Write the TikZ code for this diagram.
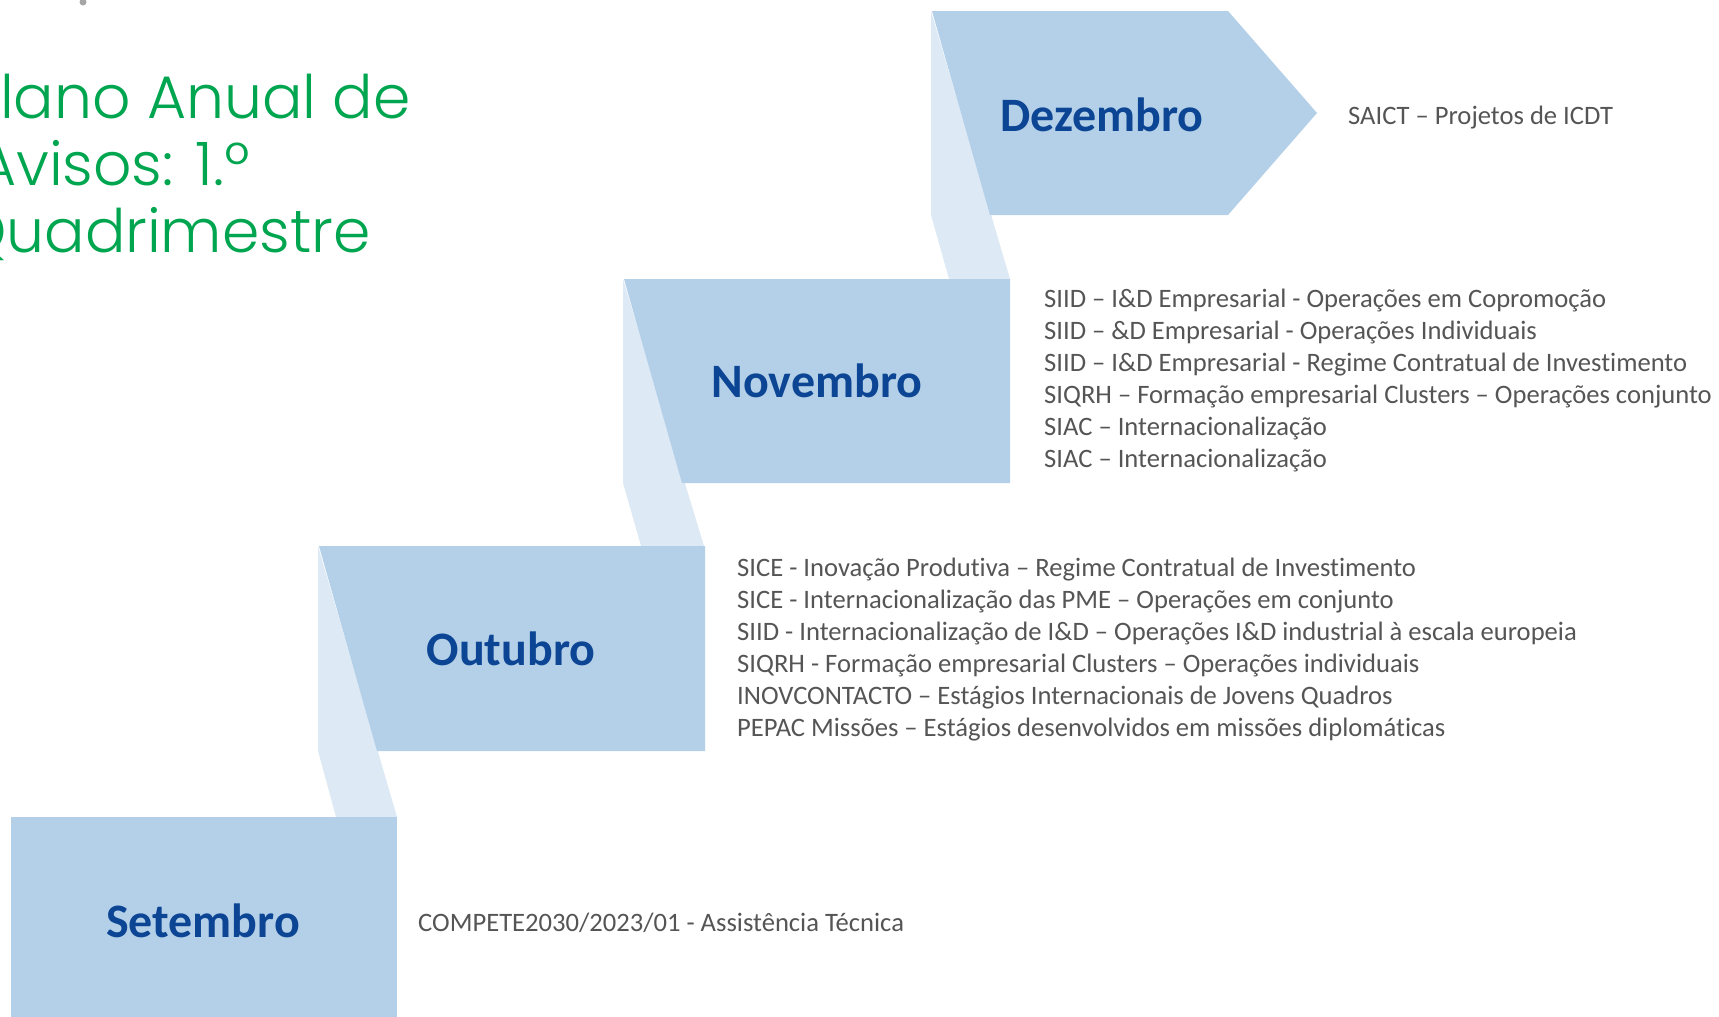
\documentclass[tikz,border=0pt]{standalone}
\usepackage{fontspec}
\setmainfont{Carlito}[Ligatures=NoCommon]
\newfontfamily\titlefont{Poppins Light}
\definecolor{boxblue}{HTML}{B3D0E8}
\definecolor{flapblue}{HTML}{DDE9F5}
\definecolor{monthblue}{HTML}{0C4594}
\definecolor{itemgray}{HTML}{555555}
\definecolor{titlegreen}{HTML}{00A54F}

\begin{document}
\begin{tikzpicture}[x=1pt,y=1pt]
          \tikzstyle{every node}+=[inner sep=0pt]
          \tikzstyle{month}=[font=\fontsize{48}{56}\selectfont\bfseries, text=monthblue]
          \tikzstyle{items}=[anchor=west, align=left, font=\fontsize{26.6}{32}\selectfont, text=itemgray]
          \tikzstyle{title}=[anchor=base west, font=\titlefont\fontsize{60}{67}\selectfont, text=titlegreen]
          \useasboundingbox (0,0) rectangle (1719,-1017);
          \clip (0,0) rectangle (1719,-1017);
          % title
          \draw (-34,-118) node[title] (title1) {Plano Anual de};
          \draw (-23,-185) node[title] (title2) {Avisos: 1.º};
          \draw (-41,-252) node[title] (title3) {Quadrimestre};
          \fill [black!35] (83,-2) circle (3.5);
          % flaps
          \fill [flapblue] (931,-11) -- (931,-215) -- (949,-279) -- (1010,-279) -- cycle;
          \fill [flapblue] (623,-279) -- (623,-483) -- (641,-546) -- (704,-546) -- cycle;
          \fill [flapblue] (318,-546) -- (318,-751) -- (336,-817) -- (397,-817) -- cycle;
          % steps
          \fill [boxblue] (932,-11) -- (1228,-11) -- (1317,-113) -- (1228,-215) -- (990,-215) -- cycle;
          \fill [boxblue] (624,-279) -- (1010,-279) -- (1010,-483) -- (682,-483) -- cycle;
          \fill [boxblue] (319,-546) -- (705,-546) -- (705,-751) -- (377,-751) -- cycle;
          \fill [boxblue] (11,-817) rectangle (397,-1021);
          % months
          \draw (1102,-115) node[month] (dez) {Dezembro};
          \draw (817,-381) node[month] (nov) {Novembro};
          \draw (511,-649) node[month] (out) {Outubro};
          \draw (203,-921) node[month] (set) {Setembro};
          % avisos
          \draw (1348,-118) node[items] (dezlist) {SAICT – Projetos de ICDT};
          \draw (1044,-380) node[items] (novlist) {SIID – I\&D Empresarial - Operações em Copromoção\\
               SIID – \&D Empresarial - Operações Individuais\\
               SIID – I\&D Empresarial - Regime Contratual de Investimento\\
               SIQRH – Formação empresarial Clusters – Operações conjunto\\
               SIAC – Internacionalização\\
               SIAC – Internacionalização};
          \draw (737,-650) node[items] (outlist) {SICE - Inovação Produtiva – Regime Contratual de Investimento\\
               SICE - Internacionalização das PME – Operações em conjunto\\
               SIID - Internacionalização de I\&D – Operações I\&D industrial à escala europeia\\
               SIQRH - Formação empresarial Clusters – Operações individuais\\
               INOVCONTACTO – Estágios Internacionais de Jovens Quadros\\
               PEPAC Missões – Estágios desenvolvidos em missões diplomáticas};
          \draw (418,-923) node[items] (setlist) {COMPETE2030/2023/01 - Assistência Técnica};
     \end{tikzpicture}
\end{document}
